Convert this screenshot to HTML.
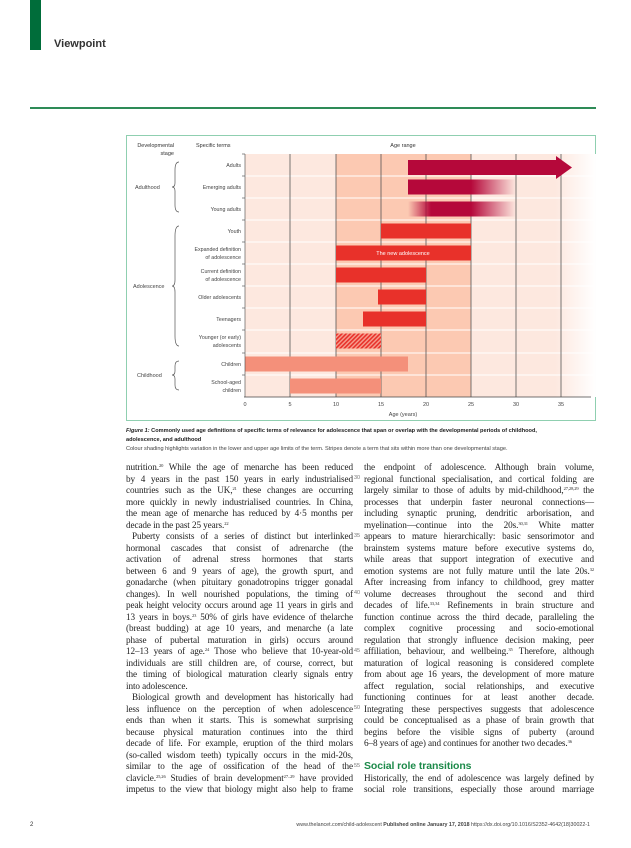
<!DOCTYPE html>
<html><head><meta charset="utf-8"><style>
*{margin:0;padding:0}
body{width:631px;height:848px;background:#fff;position:relative;overflow:hidden;font-family:"Liberation Serif",serif;color:#222}
.a{position:absolute}
.col{position:absolute;width:227px;font-size:9.2px;line-height:11.5px}
.col div{white-space:nowrap;text-align:justify;text-align-last:justify;height:11.5px;letter-spacing:-0.1px}
.col div.l{text-align-last:left}
.col div.i{text-indent:6px}
.ln{position:absolute;font-size:5.5px;color:#777;font-family:"Liberation Sans",sans-serif}
sup{font-size:4.5px;vertical-align:3px;line-height:0}
</style></head><body>
<div class="a" style="left:30px;top:0;width:11px;height:50px;background:#006d3a"></div>
<div class="a" style="left:54px;top:38px;font:bold 11px 'Liberation Sans',sans-serif;color:#333">Viewpoint</div>
<div class="a" style="left:30px;top:107px;width:566px;height:2px;background:#2e8b57"></div>

<svg class="a" style="left:0;top:0" width="631" height="848" font-family="Liberation Sans, sans-serif">
<defs>
<linearGradient id="fade" x1="0" x2="1"><stop offset="0" stop-color="#fff" stop-opacity="0"/><stop offset="1" stop-color="#fff" stop-opacity="1"/></linearGradient>
<linearGradient id="fo" x1="0" x2="1"><stop offset="0" stop-color="#b5083a"/><stop offset="1" stop-color="#b5083a" stop-opacity="0"/></linearGradient>
<linearGradient id="fi" x1="0" x2="1"><stop offset="0" stop-color="#b5083a" stop-opacity="0"/><stop offset="1" stop-color="#b5083a"/></linearGradient>
<pattern id="hatch" width="3" height="3" patternUnits="userSpaceOnUse" patternTransform="rotate(45)"><rect width="3" height="3" fill="#f6a090"/><rect width="1.6" height="3" fill="#e8312a"/></pattern>
</defs>
<rect x="126.5" y="135.5" width="469" height="285" fill="none" stroke="#8fcfb0" stroke-width="1"/>
<text x="174" y="147" font-size="5.5" text-anchor="end" fill="#333">Developmental</text>
<text x="174" y="155" font-size="5.5" text-anchor="end" fill="#333">stage</text>
<text x="196" y="147" font-size="5.5" fill="#333">Specific terms</text>
<text x="403" y="147" font-size="5.5" text-anchor="middle" fill="#333">Age range</text>
<rect x="245" y="154" width="350" height="243" fill="#fde8df"/>
<rect x="336" y="154" width="135" height="243" fill="#fcc9b2"/>
<rect x="555" y="154" width="41" height="243" fill="url(#fade)"/>
<g stroke="#fff" stroke-width="1">
<line x1="245" x2="595" y1="176" y2="176"/><line x1="245" x2="595" y1="198" y2="198"/><line x1="245" x2="595" y1="220" y2="220"/><line x1="245" x2="595" y1="242" y2="242"/><line x1="245" x2="595" y1="264" y2="264"/><line x1="245" x2="595" y1="286" y2="286"/><line x1="245" x2="595" y1="308" y2="308"/><line x1="245" x2="595" y1="330" y2="330"/><line x1="245" x2="595" y1="353" y2="353"/><line x1="245" x2="595" y1="375" y2="375"/>
</g>
<g stroke="#555" stroke-width="0.8">
<line x1="290" x2="290" y1="154" y2="397"/><line x1="336" x2="336" y1="154" y2="397"/><line x1="381" x2="381" y1="154" y2="397"/><line x1="426" x2="426" y1="154" y2="397"/><line x1="471" x2="471" y1="154" y2="397"/><line x1="516" x2="516" y1="154" y2="397"/><line x1="561" x2="561" y1="154" y2="397"/>
</g>
<polygon points="408,160 556,160 556,156 572,167.5 556,179 556,175 408,175" fill="#b5083a"/>
<rect x="408" y="179.5" width="63" height="15" fill="#b5083a"/><rect x="471" y="179.5" width="45" height="15" fill="url(#fo)"/>
<rect x="408" y="201.5" width="23" height="15" fill="url(#fi)"/><rect x="431" y="201.5" width="40" height="15" fill="#b5083a"/><rect x="471" y="201.5" width="45" height="15" fill="url(#fo)"/>
<rect x="381" y="223.5" width="90" height="15" fill="#e8312a"/>
<rect x="336" y="245.5" width="135" height="15" fill="#e8312a"/>
<text x="403" y="255" font-size="5.5" fill="#fff" text-anchor="middle">The new adolescence</text>
<rect x="336" y="267.5" width="90" height="15" fill="#e8312a"/>
<rect x="378" y="289.5" width="48" height="15" fill="#e8312a"/>
<rect x="363" y="311.5" width="63" height="15" fill="#e8312a"/>
<rect x="336" y="333.5" width="45" height="15" fill="url(#hatch)"/>
<rect x="245" y="356.5" width="163" height="15" fill="#f4907a"/>
<rect x="290" y="378.5" width="91" height="15" fill="#f4907a"/>
<line x1="244" x2="591" y1="397" y2="397" stroke="#444" stroke-width="0.8"/>
<line x1="245" x2="245" y1="154" y2="397" stroke="#444" stroke-width="0.6"/>
<g stroke="#444" stroke-width="0.6">
<line x1="242" x2="245" y1="154" y2="154"/><line x1="242" x2="245" y1="176" y2="176"/><line x1="242" x2="245" y1="198" y2="198"/><line x1="242" x2="245" y1="220" y2="220"/><line x1="242" x2="245" y1="242" y2="242"/><line x1="242" x2="245" y1="264" y2="264"/><line x1="242" x2="245" y1="286" y2="286"/><line x1="242" x2="245" y1="308" y2="308"/><line x1="242" x2="245" y1="330" y2="330"/><line x1="242" x2="245" y1="353" y2="353"/><line x1="242" x2="245" y1="375" y2="375"/>
</g>
<g font-size="5.5" fill="#444" text-anchor="middle">
<text x="245" y="406">0</text><text x="290" y="406">5</text><text x="336" y="406">10</text><text x="381" y="406">15</text><text x="426" y="406">20</text><text x="471" y="406">25</text><text x="516" y="406">30</text><text x="561" y="406">35</text>
<text x="403" y="416">Age (years)</text>
</g>
<g font-size="5.3" fill="#444" text-anchor="end">
<text x="241" y="167">Adults</text>
<text x="241" y="189">Emerging adults</text>
<text x="241" y="211">Young adults</text>
<text x="241" y="233">Youth</text>
<text x="241" y="251">Expanded definition</text><text x="241" y="259">of adolescence</text>
<text x="241" y="273">Current definition</text><text x="241" y="281">of adolescence</text>
<text x="241" y="299">Older adolescents</text>
<text x="241" y="321">Teenagers</text>
<text x="241" y="339">Younger (or early)</text><text x="241" y="347">adolescents</text>
<text x="241" y="366">Children</text>
<text x="241" y="384">School-aged</text><text x="241" y="392">children</text>
</g>
<g font-size="5.5" fill="#444">
<text x="135" y="189">Adulthood</text>
<text x="133" y="288">Adolescence</text>
<text x="137" y="377">Childhood</text>
</g>
<g fill="none" stroke="#555" stroke-width="0.7">
<path d="M179,162 Q175,162 175,170 L175,183 Q175,187 172,187 Q175,187 175,191 L175,205 Q175,212 179,212"/>
<path d="M179,226 Q175,226 175,236 L175,280 Q175,286 172,286 Q175,286 175,292 L175,336 Q175,346 179,346"/>
<path d="M179,361 Q175,361 175,366 L175,371 Q175,375 172,375 Q175,375 175,379 L175,385 Q175,390 179,390"/>
</g>
<text x="126" y="432" font-size="5.6" fill="#222"><tspan font-weight="bold" font-style="italic">Figure 1:</tspan><tspan font-weight="bold"> Commonly used age definitions of specific terms of relevance for adolescence that span or overlap with the developmental periods of childhood,</tspan></text>
<text x="126" y="441" font-size="5.6" font-weight="bold" fill="#222">adolescence, and adulthood</text>
<text x="126" y="450" font-size="5.6" fill="#444">Colour shading highlights variation in the lower and upper age limits of the term. Stripes denote a term that sits within more than one developmental stage.</text>
<text x="30" y="826" font-size="6" fill="#333">2</text>
<text x="590" y="826" font-size="5.3" fill="#444" text-anchor="end">www.thelancet.com/child-adolescent  <tspan font-weight="bold">Published online January 17, 2018</tspan>  https://dx.doi.org/10.1016/S2352-4642(18)30022-1</text>
</svg>

<div class="col" style="left:126px;top:462px">
<div>nutrition.<sup>20</sup> While the age of menarche has been reduced</div>
<div>by 4 years in the past 150 years in early industrialised</div>
<div>countries such as the UK,<sup>21</sup> these changes are occurring</div>
<div>more quickly in newly industrialised countries. In China,</div>
<div>the mean age of menarche has reduced by 4·5 months per</div>
<div class="l">decade in the past 25 years.<sup>22</sup></div>
<div class="i">Puberty consists of a series of distinct but interlinked</div>
<div>hormonal cascades that consist of adrenarche (the</div>
<div>activation of adrenal stress hormones that starts</div>
<div>between 6 and 9 years of age), the growth spurt, and</div>
<div>gonadarche (when pituitary gonadotropins trigger gonadal</div>
<div>changes). In well nourished populations, the timing of</div>
<div>peak height velocity occurs around age 11 years in girls and</div>
<div>13 years in boys.<sup>23</sup> 50% of girls have evidence of thelarche</div>
<div>(breast budding) at age 10 years, and menarche (a late</div>
<div>phase of pubertal maturation in girls) occurs around</div>
<div>12–13 years of age.<sup>24</sup> Those who believe that 10-year-old</div>
<div>individuals are still children are, of course, correct, but</div>
<div>the timing of biological maturation clearly signals entry</div>
<div class="l">into adolescence.</div>
<div class="i">Biological growth and development has historically had</div>
<div>less influence on the perception of when adolescence</div>
<div>ends than when it starts. This is somewhat surprising</div>
<div>because physical maturation continues into the third</div>
<div>decade of life. For example, eruption of the third molars</div>
<div>(so-called wisdom teeth) typically occurs in the mid-20s,</div>
<div>similar to the age of ossification of the head of the</div>
<div>clavicle.<sup>25,26</sup> Studies of brain development<sup>27–29</sup> have provided</div>
<div>impetus to the view that biology might also help to frame</div>
</div>

<div class="ln" style="left:354px;top:475px">30</div>
<div class="ln" style="left:354px;top:533px">35</div>
<div class="ln" style="left:354px;top:590px">40</div>
<div class="ln" style="left:354px;top:648px">45</div>
<div class="ln" style="left:354px;top:705px">50</div>
<div class="ln" style="left:354px;top:763px">55</div>

<div class="col" style="left:364px;top:462px;width:230px">
<div>the endpoint of adolescence. Although brain volume,</div>
<div>regional functional specialisation, and cortical folding are</div>
<div>largely similar to those of adults by mid-childhood,<sup>27,28,29</sup> the</div>
<div>processes that underpin faster neuronal connections—</div>
<div>including synaptic pruning, dendritic arborisation, and</div>
<div>myelination—continue into the 20s.<sup>30,31</sup> White matter</div>
<div>appears to mature hierarchically: basic sensorimotor and</div>
<div>brainstem systems mature before executive systems do,</div>
<div>while areas that support integration of executive and</div>
<div>emotion systems are not fully mature until the late 20s.<sup>32</sup></div>
<div>After increasing from infancy to childhood, grey matter</div>
<div>volume decreases throughout the second and third</div>
<div>decades of life.<sup>33,34</sup> Refinements in brain structure and</div>
<div>function continue across the third decade, paralleling the</div>
<div>complex cognitive processing and socio-emotional</div>
<div>regulation that strongly influence decision making, peer</div>
<div>affiliation, behaviour, and wellbeing.<sup>35</sup> Therefore, although</div>
<div>maturation of logical reasoning is considered complete</div>
<div>from about age 16 years, the development of more mature</div>
<div>affect regulation, social relationships, and executive</div>
<div>functioning continues for at least another decade.</div>
<div>Integrating these perspectives suggests that adolescence</div>
<div>could be conceptualised as a phase of brain growth that</div>
<div>begins before the visible signs of puberty (around</div>
<div class="l">6–8 years of age) and continues for another two decades.<sup>36</sup></div>
<div class="l" style="height:10px"></div>
<div class="l" style="font:bold 10.5px 'Liberation Sans',sans-serif;color:#1d8a4a;height:13px;line-height:13px">Social role transitions</div>
<div>Historically, the end of adolescence was largely defined by</div>
<div>social role transitions, especially those around marriage</div>
</div>
</body></html>
